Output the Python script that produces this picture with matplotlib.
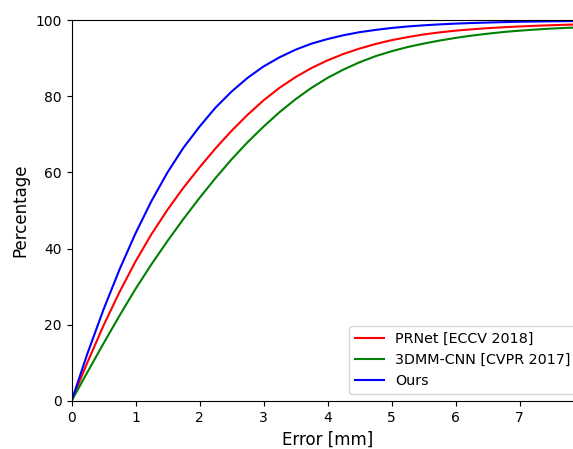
import numpy as np
import matplotlib
matplotlib.use('Agg')
import matplotlib.pyplot as plt

# error thresholds [mm]
err = [0, 0.25, 0.5, 0.75, 1.0, 1.25, 1.5, 1.75, 2.0, 2.25, 2.5, 2.75, 3.0,
       3.25, 3.5, 3.75, 4.0, 4.25, 4.5, 4.75, 5.0, 5.25, 5.5, 5.75, 6.0,
       6.25, 6.5, 6.75, 7.0, 7.25, 7.5, 7.75, 8.0]

# cumulative percentage of samples below each error
prnet = [0, 10.2, 19.8, 28.6, 36.6, 43.8, 50.2, 56.0, 61.3, 66.3, 70.9, 75.1, 78.9,
         82.2, 85.0, 87.4, 89.4, 91.1, 92.5, 93.7, 94.7, 95.5, 96.2, 96.75, 97.2,
         97.55, 97.85, 98.1, 98.3, 98.48, 98.63, 98.76, 98.87]
cnn3dmm = [0, 7.6, 15.1, 22.4, 29.4, 35.9, 42.0, 47.8, 53.3, 58.5, 63.4, 67.9, 72.0,
           75.8, 79.2, 82.2, 84.8, 87.0, 88.9, 90.5, 91.8, 92.9, 93.8, 94.6, 95.3,
           95.9, 96.4, 96.85, 97.2, 97.5, 97.75, 97.95, 98.1]
ours = [0, 12.5, 24.0, 34.5, 44.0, 52.5, 60.0, 66.5, 72.0, 77.0, 81.2, 84.8, 87.8,
        90.2, 92.2, 93.8, 95.0, 96.0, 96.8, 97.4, 97.9, 98.3, 98.6, 98.85, 99.05,
        99.2, 99.33, 99.44, 99.53, 99.6, 99.66, 99.71, 99.75]

fig = plt.figure(figsize=(5.73, 4.49), dpi=100)
# axes run slightly past the right edge, as in the original crop
ax = fig.add_axes([71.5 / 573, 1 - 401 / 449, 512 / 573, 381 / 449])

ax.plot(err, prnet, color='r', label='PRNet [ECCV 2018]')
ax.plot(err, cnn3dmm, color='g', label='3DMM-CNN [CVPR 2017]')
ax.plot(err, ours, color='b', label='Ours')

ax.set_xlim(0, 8)
ax.set_ylim(0, 100)
ax.set_xticks(range(0, 8))
ax.set_xlabel('Error [mm]', fontsize=12)
ax.set_ylabel('Percentage', fontsize=12)
ax.legend(loc='lower right', fontsize=10.3)

fig.savefig('out.png', dpi=100)
